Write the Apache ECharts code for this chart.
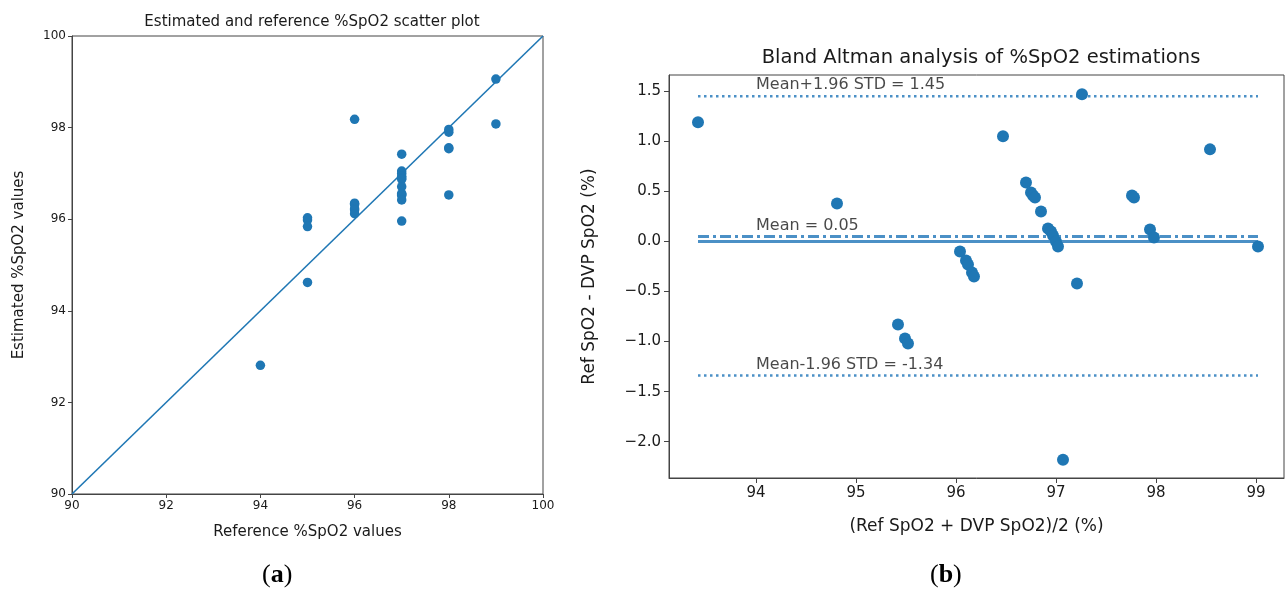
<!DOCTYPE html>
<html>
<head>
<meta charset="utf-8">
<script src="https://cdn.jsdelivr.net/npm/echarts@6/dist/echarts.min.js"></script>
<style>
html,body{margin:0;padding:0;background:#fff;}
#chart{width:1287px;height:593px;}
</style>
</head>
<body>
<div id="chart"></div>
<script>
// ---- (a) scatter: reference vs estimated SpO2 ----
const refVals = [94, 95, 95, 95, 95, 96, 96, 96, 96, 96, 96,
  97, 97, 97, 97, 97, 97, 97, 97, 97, 97, 97, 97,
  98, 98, 98, 98, 98, 99, 99];
const estVals = [92.81, 96.03, 95.98, 95.84, 94.62, 98.18, 96.35, 96.32, 96.23, 96.20, 96.12,
  97.42, 97.05, 97.00, 96.94, 96.90, 96.87, 96.71, 96.56, 96.54, 96.52, 96.42, 95.96,
  97.96, 97.90, 97.56, 97.54, 96.53, 99.06, 98.08];
const leftAxisMin = 90, leftAxisMax = 100;
const leftTicks = [90, 92, 94, 96, 98, 100];

// ---- (b) Bland-Altman ----
const baMean = [93.42, 94.81, 95.42, 95.49, 95.52, 96.04, 96.10, 96.12, 96.16, 96.18,
  96.47, 96.70, 96.75, 96.77, 96.79, 96.85, 96.92, 96.95, 96.97, 97.00, 97.02,
  97.07, 97.21, 97.26, 97.76, 97.78, 97.94, 97.98, 98.54, 99.02];
const baDiff = [1.19, 0.38, -0.83, -0.97, -1.02, -0.10, -0.19, -0.23, -0.31, -0.35,
  1.05, 0.59, 0.49, 0.46, 0.44, 0.30, 0.13, 0.10, 0.06, 0.00, -0.05,
  -2.18, -0.42, 1.47, 0.46, 0.44, 0.12, 0.04, 0.92, -0.05];
const upperLoA = 1.45, meanDiff = 0.05, lowerLoA = -1.34, zeroLine = 0;
const rightXTicks = [94, 95, 96, 97, 98, 99];
const rightYTicks = [-2.0, -1.5, -1.0, -0.5, 0.0, 0.5, 1.0, 1.5];
const annotX = 94;

const blue = '#1f77b4';
const lineBlue = '#4b90c6';
const txt = '#1a1a1a';
const spine = '#444';
const fam = 'DejaVu Sans';

const xLo = Math.min(...baMean), xHi = Math.max(...baMean);
const hline = v => [[xLo, v], [xHi, v]];
const minusFmt = v => { const s = Number(v).toFixed(1); return s.replace('-', '\u2212'); };

const chart = echarts.init(document.getElementById('chart'), null, {renderer: 'canvas'});
const option = {
  animation: false,
  backgroundColor: '#fff',
  title: [
    {text: 'Estimated and reference %SpO2 scatter plot', left: 307, top: 10, textAlign: 'center',
     textStyle: {fontFamily: fam, fontSize: 15, fontWeight: 'normal', color: txt}},
    {text: 'Bland Altman analysis of %SpO2 estimations', left: 976, top: 43, textAlign: 'center',
     textStyle: {fontFamily: fam, fontSize: 19.5, fontWeight: 'normal', color: txt}}
  ],
  grid: [
    {left: 72, top: 36, width: 471, height: 458, show: true, borderColor: spine, borderWidth: 1, containLabel: false},
    {left: 669, top: 75, width: 615, height: 403, show: true, borderColor: spine, borderWidth: 1, containLabel: false}
  ],
  xAxis: [
    {gridIndex: 0, type: 'value', min: leftAxisMin, max: leftAxisMax, interval: 2,
     name: 'Reference %SpO2 values', nameLocation: 'middle', nameGap: 31,
     nameTextStyle: {fontFamily: fam, fontSize: 15, color: txt},
     axisLine: {show: true, lineStyle: {color: spine, width: 1}},
     axisTick: {show: true, length: 4, lineStyle: {color: spine}},
     axisLabel: {fontFamily: fam, fontSize: 12, color: txt, margin: 6},
     splitLine: {show: false}},
    {gridIndex: 1, type: 'value', min: 93.13, max: 99.28,
     name: '(Ref SpO2 + DVP SpO2)/2 (%)', nameLocation: 'middle', nameGap: 40,
     nameTextStyle: {fontFamily: fam, fontSize: 17, color: txt},
     axisLine: {show: true, onZero: false, lineStyle: {color: spine, width: 1}},
     axisTick: {show: true, length: 5, customValues: rightXTicks, lineStyle: {color: spine}},
     axisLabel: {fontFamily: fam, fontSize: 15, color: txt, margin: 8, customValues: rightXTicks},
     splitLine: {show: false}}
  ],
  yAxis: [
    {gridIndex: 0, type: 'value', min: leftAxisMin, max: leftAxisMax, interval: 2,
     name: 'Estimated %SpO2 values', nameLocation: 'middle', nameGap: 45, nameRotate: 90,
     nameTextStyle: {fontFamily: fam, fontSize: 15, color: txt},
     axisLine: {show: true, lineStyle: {color: spine, width: 1}},
     axisTick: {show: true, length: 4, lineStyle: {color: spine}},
     axisLabel: {fontFamily: fam, fontSize: 12, color: txt, margin: 6},
     splitLine: {show: false}},
    {gridIndex: 1, type: 'value', min: -2.363, max: 1.663,
     name: 'Ref SpO2 - DVP SpO2 (%)', nameLocation: 'middle', nameGap: 71, nameRotate: 90,
     nameTextStyle: {fontFamily: fam, fontSize: 17, color: txt},
     axisLine: {show: true, onZero: false, lineStyle: {color: spine, width: 1}},
     axisTick: {show: true, length: 5, customValues: rightYTicks, lineStyle: {color: spine}},
     axisLabel: {fontFamily: fam, fontSize: 15, color: txt, margin: 8, customValues: rightYTicks,
       formatter: minusFmt},
     splitLine: {show: false}}
  ],
  series: [
    {type: 'line', xAxisIndex: 0, yAxisIndex: 0, symbol: 'none', z: 2,
     data: [[leftAxisMin, leftAxisMin], [leftAxisMax, leftAxisMax]],
     lineStyle: {color: blue, width: 1.6}},
    {type: 'scatter', xAxisIndex: 0, yAxisIndex: 0, symbolSize: 9.5, z: 3,
     itemStyle: {color: blue, opacity: 1},
     data: refVals.map((r, i) => [r, estVals[i]])},

    {type: 'line', xAxisIndex: 1, yAxisIndex: 1, symbol: 'none', z: 2, data: hline(upperLoA),
     lineStyle: {color: lineBlue, width: 2.5, type: [2.5, 3.5]}},
    {type: 'line', xAxisIndex: 1, yAxisIndex: 1, symbol: 'none', z: 2, data: hline(lowerLoA),
     lineStyle: {color: lineBlue, width: 2.5, type: [2.5, 3.5]}},
    {type: 'line', xAxisIndex: 1, yAxisIndex: 1, symbol: 'none', z: 2, data: hline(meanDiff),
     lineStyle: {color: lineBlue, width: 3, type: [11, 4, 3, 4]}},
    {type: 'line', xAxisIndex: 1, yAxisIndex: 1, symbol: 'none', z: 2, data: hline(zeroLine),
     lineStyle: {color: lineBlue, width: 3}},
    {type: 'scatter', xAxisIndex: 1, yAxisIndex: 1, symbolSize: 12, z: 3,
     itemStyle: {color: blue, opacity: 1},
     data: baMean.map((m, i) => [m, baDiff[i]])},
    {type: 'scatter', xAxisIndex: 1, yAxisIndex: 1, symbolSize: 0, z: 4, silent: true,
     data: [
       {value: [annotX, upperLoA], name: 'Mean+1.96 STD = ' + upperLoA.toFixed(2)},
       {value: [annotX, meanDiff], name: 'Mean = ' + meanDiff.toFixed(2)},
       {value: [annotX, lowerLoA], name: 'Mean-1.96 STD = ' + lowerLoA.toFixed(2)}
     ],
     label: {show: true, position: [0, -3], align: 'left', verticalAlign: 'bottom',
       formatter: p => p.name, fontFamily: fam, fontSize: 16, color: txt}}
  ],
  graphic: [
    {type: 'text', left: 262, top: 562, style: {
      text: '{n|(}{b|a}{n|)}',
      rich: {n: {fontFamily: 'Liberation Serif', fontSize: 26, fill: '#000'},
             b: {fontFamily: 'Liberation Serif', fontSize: 26, fontWeight: 'bold', fill: '#000'}}}},
    {type: 'text', left: 930, top: 562, style: {
      text: '{n|(}{b|b}{n|)}',
      rich: {n: {fontFamily: 'Liberation Serif', fontSize: 26, fill: '#000'},
             b: {fontFamily: 'Liberation Serif', fontSize: 26, fontWeight: 'bold', fill: '#000'}}}}
  ]
};
chart.setOption(option);
</script>
</body>
</html>
